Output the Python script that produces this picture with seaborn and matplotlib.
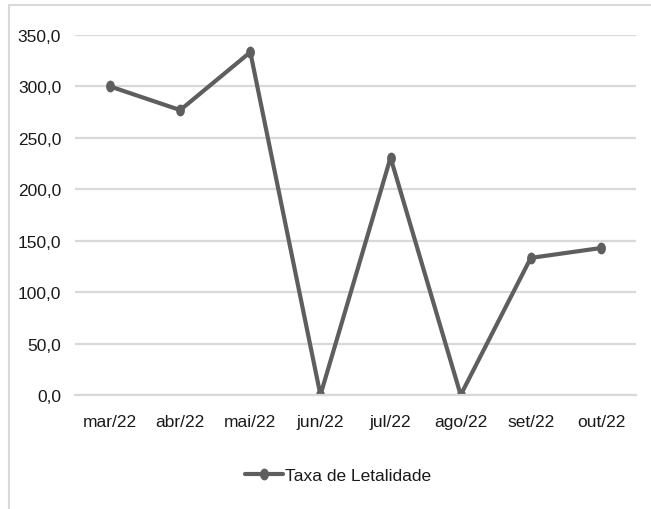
import matplotlib
matplotlib.use("Agg")
import matplotlib.pyplot as plt
import seaborn as sns
import pandas as pd
import numpy as np
from matplotlib.patches import Rectangle

# Monthly lethality rate
months = ["mar/22", "abr/22", "mai/22", "jun/22", "jul/22", "ago/22", "set/22", "out/22"]
taxa = [300.0, 277.0, 333.3, 0.0, 230.8, 0.0, 133.3, 142.9]
y_ticks = [0, 50, 100, 150, 200, 250, 300, 350]
series_name = "Taxa de Letalidade"

df = pd.DataFrame({"pos": np.arange(len(months)), "taxa": taxa, "serie": series_name})

sns.set_theme(style="white")
plt.rcParams["font.family"] = ["Liberation Sans", "DejaVu Sans"]

line_color = "#5e5e5e"
grid_color = "#d9d9d9"
text_color = "#1a1a1a"
font_size = 12.5

# slightly tall oval marker
theta = np.linspace(0, 2 * np.pi, 40)
oval = list(zip(0.75 * np.cos(theta), np.sin(theta)))

fig = plt.figure(figsize=(6.51, 5.10), dpi=100)
ax = fig.add_axes([75 / 651, 1 - 396 / 510, (636 - 75) / 651, (396 - 36) / 510])

sns.lineplot(data=df, x="pos", y="taxa", hue="serie", palette=[line_color],
             marker=oval, markersize=8.5, markeredgewidth=0, linewidth=3.0,
             ax=ax, legend=True)

ax.set_xlim(-0.5, len(months) - 0.5)
ax.set_ylim(0, 350)
ax.set_yticks(y_ticks)
ax.set_yticklabels([f"{v:.1f}".replace(".", ",") for v in y_ticks])
ax.set_xticks(np.arange(len(months)))
ax.set_xticklabels(months)
ax.set_xticks(np.arange(-0.5, len(months)), minor=True)
ax.tick_params(axis="x", which="major", length=0, pad=14, labelsize=font_size, colors=text_color)
ax.tick_params(axis="x", which="minor", length=7, width=1.5, color=grid_color)
ax.tick_params(axis="y", length=0, pad=10, labelsize=font_size, colors=text_color)
ax.set_xlabel("")
ax.set_ylabel("")

ax.yaxis.grid(True, color=grid_color, linewidth=1.6)
ax.set_axisbelow(True)
for side in ["left", "right", "top"]:
    ax.spines[side].set_visible(False)
ax.spines["bottom"].set_color(grid_color)
ax.spines["bottom"].set_linewidth(1.6)

handles, labels = ax.get_legend_handles_labels()
ax.get_legend().remove()
fig.legend(handles, labels, loc="center", bbox_to_anchor=(338 / 651, 1 - 476 / 510),
           frameon=False, fontsize=font_size, handlelength=2.2, handletextpad=0.1,
           labelcolor=text_color)

# chart area border
fig.patches.append(Rectangle((9 / 651, -0.05), 1.0, 1 - 6 / 510 + 0.05,
                             transform=fig.transFigure, fill=False,
                             edgecolor=grid_color, linewidth=1.5))

fig.savefig("out.png", dpi=100, facecolor="white")
